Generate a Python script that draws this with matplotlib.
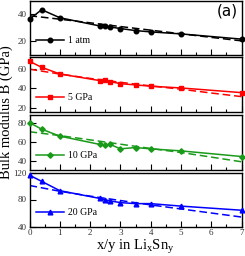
import matplotlib
matplotlib.use("Agg")
import matplotlib.pyplot as plt
from matplotlib.ticker import MultipleLocator

plt.rcParams['font.family'] = ['Liberation Serif', 'DejaVu Serif']
plt.rcParams['mathtext.fontset'] = 'custom'
plt.rcParams['mathtext.rm'] = 'Liberation Serif'
plt.rcParams['mathtext.it'] = 'Liberation Serif'

# data: x/y ratio in LixSny
x_ratio = [0, 0.4, 1.0, 2.33, 2.5, 2.67, 3.0, 3.5, 4.0, 5.0, 7.0]
b_1atm = [36.3, 43.5, 37.5, 31.3, 31.1, 30.6, 29.4, 27.9, 26.9, 25.4, 21.5]
b_5gpa = [67.6, 61.4, 54.6, 47.7, 48.4, 46.7, 44.6, 43.3, 42.0, 40.2, 35.4]
b_10gpa = [80.5, 73.7, 66.4, 57.7, 57.3, 57.7, 53.1, 54.5, 53.1, 51.0, 45.1]
b_20gpa = [116.0, 106.9, 93.1, 81.5, 79.4, 77.9, 75.4, 73.9, 73.9, 70.2, 64.1]

# dashed fit curves read at these x
fit_x = [0, 1, 2, 3, 4, 5, 6, 7]
fit_1atm = [39.0, 36.4, 33.7, 30.9, 28.2, 25.5, 22.8, 20.2]
fit_5gpa = [59.5, 54.5, 50.0, 46.0, 42.3, 38.9, 35.0, 31.3]
fit_10gpa = [71.0, 67.0, 62.5, 58.0, 53.5, 49.3, 44.5, 39.6]
fit_20gpa = [100.8, 92.2, 85.0, 78.5, 72.0, 66.0, 60.0, 54.0]

labels = ['1 atm', '5 GPa', '10 GPa', '20 GPa']
colors = ['black', '#ff0000', '#1a9a1a', '#0000ff']
markers = ['o', 's', 'D', '^']
series = [b_1atm, b_5gpa, b_10gpa, b_20gpa]
fits = [fit_1atm, fit_5gpa, fit_10gpa, fit_20gpa]
ylims = [(10, 50), (16, 72), (31, 88.5), (40, 120)]
yticks = [[20, 40], [20, 40, 60], [40, 60, 80], [40, 80, 120]]

W, H = 245, 256
fig = plt.figure(figsize=(W / 100, H / 100), dpi=100)
panels_px = [(1, 54.5), (57, 111.5), (115, 170), (172.5, 226.5)]
left, right = 29.5, 241.5

for i, (top, bot) in enumerate(panels_px):
    ax = fig.add_axes([left / W, 1 - bot / H, (right - left) / W, (bot - top) / H])
    ms = {'o': 3.3, 's': 3.0, 'D': 2.8, '^': 3.4}[markers[i]]
    ax.plot(x_ratio, series[i], color=colors[i], marker=markers[i], lw=1.1,
            ms=ms, label=labels[i], clip_on=False, zorder=3)
    ax.plot(fit_x, fits[i], color=colors[i], lw=1.1, ls=(0, (5, 2.5)), zorder=2)
    ax.set_xlim(0, 7)
    ax.set_ylim(*ylims[i])
    ax.set_yticks(yticks[i])
    ax.xaxis.set_major_locator(MultipleLocator(1))
    ax.xaxis.set_minor_locator(MultipleLocator(0.5))
    ax.tick_params(axis='both', which='both', direction='in', labelsize=6.5,
                   top=False, right=False, pad=2, width=0.8, labelcolor='#333333')
    ax.tick_params(axis='x', which='major', length=4)
    ax.tick_params(axis='x', which='minor', length=2.5)
    ax.tick_params(axis='y', which='major', length=4)
    for s in ax.spines.values():
        s.set_linewidth(1.0)
    if i < 3:
        ax.tick_params(axis='x', labelbottom=False)
    ax.legend(loc='lower left', frameon=False, fontsize=7, handlelength=2.8,
              handletextpad=0.5, borderaxespad=0.3, bbox_to_anchor=(0.0, 0.05))
    if i == 0:
        ax.text(0.985, 0.95, '(a)', transform=ax.transAxes, ha='right', va='top',
                fontsize=11, family='DejaVu Sans')

fig.text(6.5 / W, 1 - 112 / H, 'Bulk modulus B (GPa)', rotation=90, ha='center',
         va='center', fontsize=10.5)
fig.text(135 / W, 1 - 238.5 / H, r'x/y in Li$_{\rm x}$Sn$_{\rm y}$', ha='center',
         va='top', fontsize=10.5)

fig.savefig('out.png', dpi=100)
